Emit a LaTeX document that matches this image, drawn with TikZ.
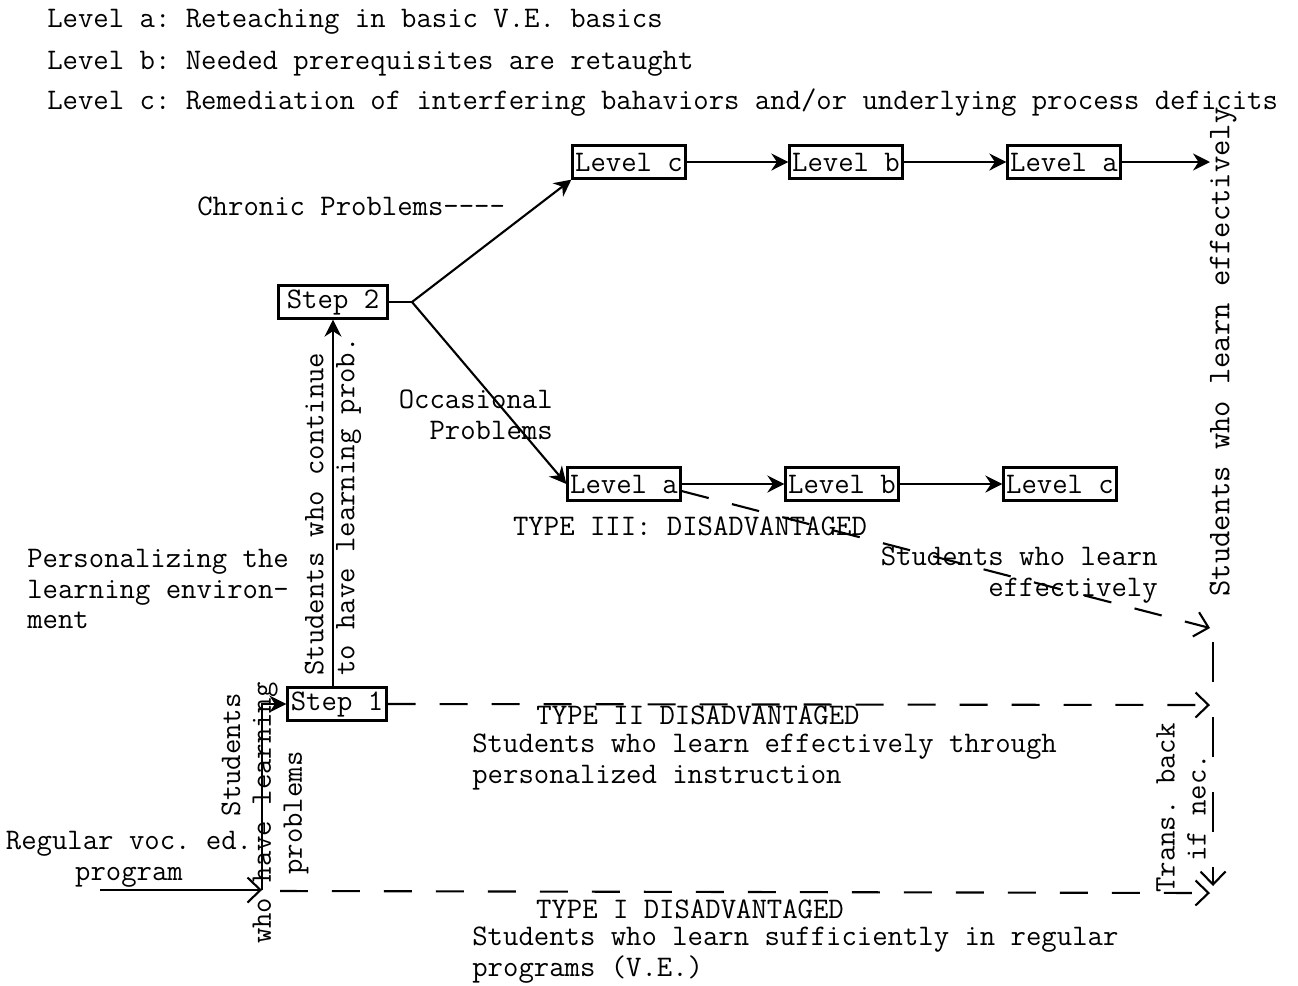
\documentclass[tikz,border=0pt]{standalone}
\usepackage{fontspec}
\usetikzlibrary{arrows.meta}
\frenchspacing
\newcommand{\twfont}{\ttfamily\fontsize{17pt}{17.6pt}\selectfont}
\tikzset{
  txt/.style={inner sep=0pt,font=\twfont,text=black},
  lvlbox/.style={draw,line width=1.3pt,inner xsep=1.5pt,inner ysep=0pt,
                 minimum height=0.66cm,font=\twfont},
  flow/.style={line width=1.2pt,-{Stealth[length=3.4mm,width=3.4mm]}},
  dflow/.style={line width=1.2pt,dash pattern=on 0.56cm off 0.48cm,
                -{Straight Barb[length=2.6mm,width=5mm,line width=1.2pt]}},
}

\begin{document}
\begin{tikzpicture}[x=0.02cm,y=-0.02cm]
        \useasboundingbox (0,0) rectangle (1298,985);
        \node[txt,anchor=west] (keyA) at (47,22) {Level a: Reteaching in basic V.E. basics};
        \node[txt,anchor=west] (keyB) at (47,64) {Level b: Needed prerequisites are retaught};
        \node[txt,anchor=west] (keyC) at (47,103)
              {Level c: Remediation of interfering bahaviors and/or underlying process deficits};
        \node[lvlbox] (chrC) at (629,162) {Level c};
        \node[lvlbox] (chrB) at (846,162) {Level b};
        \node[lvlbox] (chrA) at (1064,162) {Level a};
        \node[lvlbox] (occA) at (624,484) {Level a};
        \node[lvlbox] (occB) at (842,484) {Level b};
        \node[lvlbox] (occC) at (1060,484) {Level c};
        \node[lvlbox,minimum width=2.18cm] (step2) at (333,302) {Step 2};
        \node[lvlbox,minimum width=1.98cm] (step1) at (337,704) {Step 1};
        \coordinate (fork) at (412,302);
        \coordinate (topOut) at (1210,162);
        \coordinate (occOut) at (1210,628);
        \coordinate (tIIend) at (1210,705);
        \coordinate (tIend) at (1210,893);
        \coordinate (backTop) at (1213,642);
        \coordinate (backBot) at (1213,886);
        \coordinate (regIn) at (100,890);
        \coordinate (entry) at (262,890);
        \coordinate (tIstart) at (280,891);
        \draw[line width=1.2pt] (step2.east) -- (fork);
        \draw[flow] (fork) -- (chrC.south west);
        \draw[flow] (fork) -- (occA.west);
        \draw[flow] (chrC.east) -- (chrB.west);
        \draw[flow] (chrB.east) -- (chrA.west);
        \draw[flow] (chrA.east) -- (topOut);
        \draw[flow] (occA.east) -- (occB.west);
        \draw[flow] (occB.east) -- (occC.west);
        \draw[dflow] ([yshift=-4pt]occA.east) -- (occOut);
        \draw[flow] (step2.south |- step1.north) -- (step2.south);
        \draw[dflow] (step1.east) -- (tIIend);
        \draw[dflow] (tIstart) -- (tIend);
        \draw[dflow,dash pattern=on 0.8cm off 0.7cm] (backTop) -- (backBot);
        \draw[line width=1.2pt,-{Straight Barb[length=2.6mm,width=5mm,line width=1.2pt]}]
              (regIn) -- (entry);
        \draw[flow] (entry) |- (step1.west);
        \node[txt,anchor=west] (chronic) at (197,206) {Chronic Problems----};
        \node[txt,anchor=east,align=right] (occas) at (553,415) {Occasional\\Problems};
        \node[txt] (type3) at (690,526) {TYPE III: DISADVANTAGED};
        \node[txt,anchor=east,align=right] (learn3) at (1158,575) {Students who learn\\effectively};
        \node[txt,anchor=west,align=left] (personal) at (27,589)
              {Personalizing the\\learning environ-\\ment};
        \node[txt,rotate=90,anchor=west,align=left] (cont) at (333,676)
              {Students who continue\\to have learning prob.};
        \node[txt,rotate=90,align=center] (haveprob) at (265,813)
              {\hspace*{3.9em}Students\\who have learning\\problems};
        \node[txt,align=center] (regprog) at (129,859) {Regular voc. ed.\\program};
        \node[txt] (type2) at (698,715) {TYPE II DISADVANTAGED};
        \node[txt,anchor=west,align=left] (learn2) at (472,762)
              {Students who learn effectively through\\personalized instruction};
        \node[txt] (type1) at (690,909) {TYPE I DISADVANTAGED};
        \node[txt,anchor=west,align=left] (learn1) at (472,955)
              {Students who learn sufficiently in regular\\programs (V.E.)};
        \node[txt,rotate=90,font=\ttfamily\fontsize{18pt}{19pt}\selectfont] (learnAll)
              at (1223,352) {Students who learn effectively};
        \node[txt,rotate=90,align=center] (transback) at (1181,808) {Trans. back\\if nec.};
\end{tikzpicture}
\end{document}
